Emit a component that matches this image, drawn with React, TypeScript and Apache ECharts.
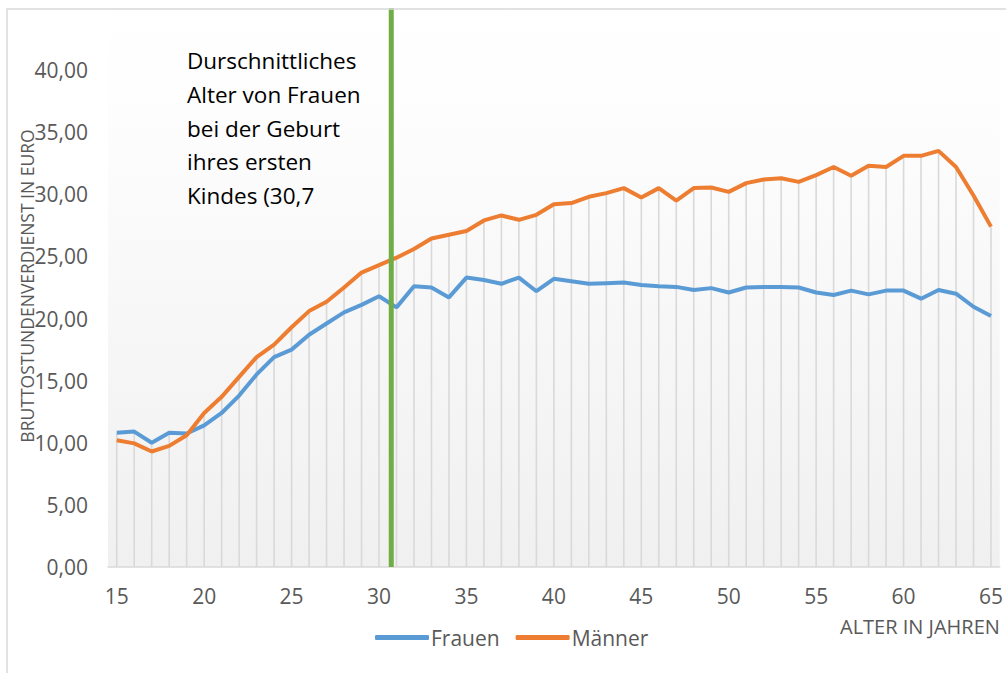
import React, { useEffect, useRef } from "react";
import * as echarts from "echarts";

const ages: string[] = [
  "15","16","17","18","19","20","21","22","23","24","25","26","27","28","29","30",
  "31","32","33","34","35","36","37","38","39","40","41","42","43","44","45","46",
  "47","48","49","50","51","52","53","54","55","56","57","58","59","60","61","62",
  "63","64","65",
];

const frauen: number[] = [
  10.8, 10.9, 10.0, 10.8, 10.75, 11.4, 12.4, 13.8, 15.5, 16.9, 17.5, 18.7, 19.6, 20.5, 21.1, 21.8,
  20.9, 22.6, 22.5, 21.7, 23.3, 23.1, 22.8, 23.3, 22.2, 23.2, 23.0, 22.8, 22.85, 22.9, 22.7, 22.6,
  22.55, 22.3, 22.45, 22.1, 22.5, 22.55, 22.55, 22.5, 22.1, 21.9, 22.25, 21.95, 22.25, 22.25, 21.6, 22.3,
  22.0, 20.95, 20.2,
];

const maenner: number[] = [
  10.2, 9.95, 9.3, 9.75, 10.6, 12.4, 13.7, 15.3, 16.9, 17.9, 19.3, 20.6, 21.35, 22.5, 23.7, 24.3,
  24.9, 25.6, 26.45, 26.75, 27.05, 27.9, 28.3, 27.95, 28.35, 29.2, 29.3, 29.8, 30.1, 30.5, 29.75, 30.5,
  29.5, 30.5, 30.55, 30.2, 30.9, 31.2, 31.3, 31.0, 31.55, 32.2, 31.5, 32.3, 32.2, 33.1, 33.1, 33.5,
  32.2, 29.9, 27.4,
];

const firstBirthAge = 30.7;
const markerRange: number[] = [0, 45];

const annotationLines: string[] = [
  "Durschnittliches",
  "Alter von Frauen",
  "bei der Geburt",
  "ihres ersten",
  "Kindes (30,7",
];

const FONT = "'Open Sans', 'Noto Sans', sans-serif";

export default function App() {
  const ref = useRef<HTMLDivElement>(null);

  useEffect(() => {
    if (!ref.current) return;
    const chart = echarts.init(ref.current, null, { renderer: "svg" });

    const dropData = ages.map((_, i) => [i, Math.max(frauen[i], maenner[i])]);

    chart.setOption({
      animation: false,
      backgroundColor: "#ffffff",
      textStyle: { fontFamily: FONT },
      grid: {
        left: 108,
        right: 6,
        top: 8,
        bottom: 106,
        show: true,
        borderWidth: 0,
        backgroundColor: new echarts.graphic.LinearGradient(0, 0, 0, 1, [
          { offset: 0, color: "#ffffff" },
          { offset: 0.2, color: "#fdfdfd" },
          { offset: 1, color: "#f0f0f0" },
        ]),
      },
      legend: {
        data: [
          { name: "Frauen", icon: "roundRect" },
          { name: "Männer", icon: "roundRect" },
        ],
        left: 375,
        top: 627,
        padding: 0,
        itemWidth: 54,
        itemHeight: 5,
        itemGap: 16,
        textStyle: { color: "#595959", fontSize: 21, fontFamily: FONT, padding: [0, 0, 0, -3] },
      },
      xAxis: [
        {
          type: "category",
          data: ages,
          boundaryGap: true,
          axisTick: { show: false },
          axisLine: { lineStyle: { color: "#d9d9d9", width: 1.5 } },
          axisLabel: {
            interval: 4,
            color: "#595959",
            fontSize: 21,
            margin: 18,
            fontFamily: FONT,
          },
          splitLine: { show: false },
        },
        {
          type: "value",
          min: 14.5,
          max: 65.5,
          show: false,
        },
      ],
      yAxis: {
        type: "value",
        min: 0,
        max: 45,
        interval: 5,
        axisLine: { show: false },
        axisTick: { show: false },
        splitLine: { show: false },
        axisLabel: {
          color: "#595959",
          fontSize: 21,
          margin: 20,
          fontFamily: FONT,
          formatter: (v: number) => (v >= 45 ? "" : v.toFixed(2).replace(".", ",")),
        },
      },
      graphic: [
        {
          type: "rect",
          silent: true,
          shape: { x: 7, y: 9, width: 1200, height: 1000 },
          style: { fill: "none", stroke: "#d9d9d9", lineWidth: 1.5 },
          z: 50,
        },
        {
          type: "text",
          x: 27,
          y: 286,
          rotation: Math.PI / 2,
          style: {
            text: "BRUTTOSTUNDENVERDIENST IN EURO",
            fill: "#595959",
            font: `17.5px ${FONT}`,
            align: "center",
            verticalAlign: "middle",
          },
          z: 10,
        },
        {
          type: "text",
          x: 840,
          y: 626,
          style: {
            text: "ALTER IN JAHREN",
            fill: "#595959",
            font: `20px ${FONT}`,
            align: "left",
            verticalAlign: "middle",
          },
        },
        {
          type: "text",
          x: 187,
          y: 44,
          style: {
            text: annotationLines.join("\n"),
            fill: "#000000",
            font: `22.5px ${FONT}`,
            lineHeight: 33.7,
            align: "left",
            verticalAlign: "top",
          },
          z: 10,
        },
      ],
      series: [
        {
          type: "custom",
          name: "drop",
          silent: true,
          z: 1,
          data: dropData,
          renderItem: (params: any, api: any) => {
            const top = api.coord([api.value(0), api.value(1)]);
            const bottom = api.coord([api.value(0), 0]);
            return {
              type: "line",
              shape: { x1: top[0], y1: top[1], x2: bottom[0], y2: bottom[1] },
              style: { stroke: "#d9d9d9", lineWidth: 1.6 },
            };
          },
        },
        {
          name: "Frauen",
          type: "line",
          data: frauen,
          symbol: "none",
          z: 2,
          lineStyle: { color: "#5b9bd5", width: 4 },
          itemStyle: { color: "#5b9bd5" },
        },
        {
          name: "Männer",
          type: "line",
          data: maenner,
          symbol: "none",
          z: 2,
          lineStyle: { color: "#ed7d31", width: 4 },
          itemStyle: { color: "#ed7d31" },
        },
        {
          name: "Erstgeburt",
          type: "line",
          xAxisIndex: 1,
          data: markerRange.map((v) => [firstBirthAge, v]),
          symbol: "none",
          z: 3,
          clip: false,
          lineStyle: { color: "#70ad47", width: 5 },
        },
      ],
    });

    return () => chart.dispose();
  }, []);

  return (
    <div
      ref={ref}
      style={{ position: "fixed", left: 0, top: 0, width: 1006, height: 673 }}
    />
  );
}
